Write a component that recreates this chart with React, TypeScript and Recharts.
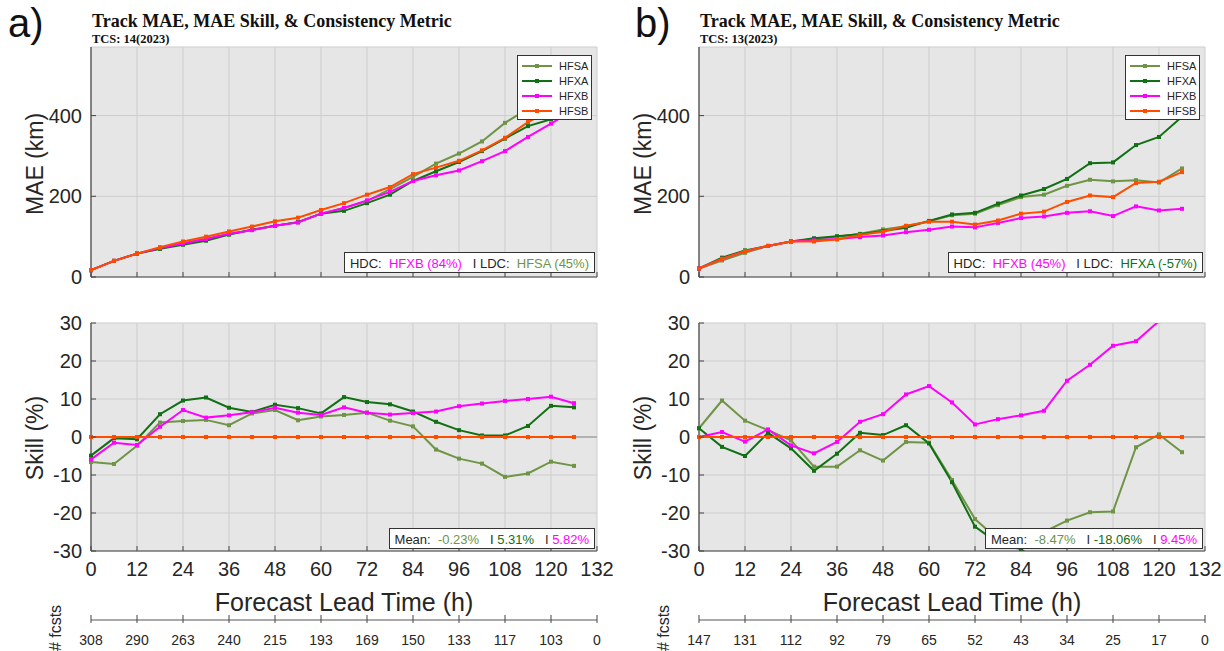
import React from 'react';
import { LineChart, Line, XAxis, YAxis, CartesianGrid, ReferenceLine } from 'recharts';

// ---------------- data ----------------
const leadTimes = [0, 6, 12, 18, 24, 30, 36, 42, 48, 54, 60, 66, 72, 78, 84, 90, 96, 102, 108, 114, 120, 126];
const xTicks = [0, 12, 24, 36, 48, 60, 72, 84, 96, 108, 120, 132];
const maeTicks = [0, 200, 400];
const skillTicks = [-30, -20, -10, 0, 10, 20, 30];
const seriesNames = ['HFSA', 'HFXA', 'HFXB', 'HFSB'];
const seriesColors = ['#6f9446', '#117014', '#ff00ff', '#ff4d00'];

const fcstLabelsA = ['308', '290', '263', '240', '215', '193', '169', '150', '133', '117', '103', '0'];
const fcstLabelsB = ['147', '131', '112', '92', '79', '65', '52', '43', '34', '25', '17', '0'];

// Track MAE (km), panel a
const maeHFSA_A = [17, 40, 58, 70, 84, 95, 106, 117, 127, 136, 157, 171, 188, 218, 248, 281, 306, 336, 382, 417, 450, 480];
const maeHFXA_A = [17, 40, 58, 70, 80, 90, 105, 117, 127, 136, 157, 164, 183, 204, 238, 262, 285, 312, 343, 374, 391, 405];
const maeHFXB_A = [17, 40, 58, 72, 83, 94, 107, 116, 127, 135, 157, 171, 190, 211, 238, 252, 264, 287, 312, 347, 380, 415];
const maeHFSB_A = [17, 40, 58, 74, 88, 100, 113, 125, 138, 147, 166, 183, 204, 223, 255, 271, 288, 314, 345, 384, 413, 440];

// Track MAE (km), panel b
const maeHFSA_B = [21, 41, 60, 77, 88, 94, 100, 107, 118, 126, 138, 153, 157, 178, 198, 204, 226, 241, 237, 240, 234, 269];
const maeHFXA_B = [21, 48, 66, 77, 88, 96, 101, 106, 114, 122, 139, 155, 159, 182, 202, 218, 243, 282, 284, 327, 347, 397];
const maeHFXB_B = [21, 45, 64, 77, 88, 91, 94, 99, 103, 111, 117, 125, 123, 134, 146, 150, 159, 163, 151, 175, 165, 169];
const maeHFSB_B = [21, 45, 64, 77, 88, 88, 93, 104, 112, 127, 137, 137, 130, 140, 157, 162, 186, 202, 198, 233, 236, 260];

// MAE skill (%), panel a
const skillHFSA_A = [-6.6, -7.1, -2.3, 3.8, 4.2, 4.5, 3.1, 6.2, 7.1, 4.4, 5.4, 5.8, 6.4, 4.3, 2.8, -3.3, -5.7, -7.0, -10.5, -9.6, -6.5, -7.6];
const skillHFXA_A = [-4.9, -0.3, -0.6, 6.0, 9.6, 10.4, 7.7, 6.6, 8.5, 7.6, 6.2, 10.5, 9.2, 8.6, 6.7, 4.0, 1.8, 0.4, 0.4, 2.9, 8.2, 7.8];
const skillHFXB_A = [-5.9, -1.5, -2.1, 2.7, 7.1, 5.1, 5.7, 6.5, 7.7, 6.4, 5.8, 7.8, 6.4, 5.9, 6.3, 6.7, 8.1, 8.8, 9.5, 10.0, 10.6, 8.9];
const skillHFSB_A = [0, 0, 0, 0, 0, 0, 0, 0, 0, 0, 0, 0, 0, 0, 0, 0, 0, 0, 0, 0, 0, 0];

// MAE skill (%), panel b
const skillHFSA_B = [2.3, 9.6, 4.3, 1.8, -0.9, -7.8, -7.8, -3.5, -6.2, -1.3, -1.5, -11.3, -21.6, -27, -27, -25, -22, -19.8, -19.6, -2.7, 0.7, -4.0];
const skillHFXA_B = [2.3, -2.6, -5.0, 1.1, -3.0, -8.9, -4.4, 1.1, 0.5, 3.1, -1.7, -11.9, -23.6, -28, -29.5, -34, -31, -40, -43, -40, -47, -53];
const skillHFXB_B = [0, 1.3, -1.2, 2.0, -2.2, -4.3, -1.3, 4.0, 6.0, 11.2, 13.4, 9.1, 3.3, 4.7, 5.7, 6.9, 14.8, 19.0, 24.0, 25.2, 30.5, 35.8];
const skillHFSB_B = [0, 0, 0, 0, 0, 0, 0, 0, 0, 0, 0, 0, 0, 0, 0, 0, 0, 0, 0, 0, 0, 0];

// ---------------- styling ----------------
const SANS = '"Liberation Sans", Arial, Helvetica, sans-serif';
const SERIF = '"Liberation Serif", "Times New Roman", serif';
const AX = '#444444';
const TXT = '#262626';
const BG = '#e6e6e6';
const GRID = '#cdcdcd';

function buildRows(cols: number[][]) {
  return leadTimes.map((t, i) => {
    const r: any = { t };
    seriesNames.forEach((n, k) => {
      r[n] = cols[k][i];
    });
    return r;
  });
}

const squareDot = (color: string) => (p: any) => {
  const { cx, cy, index } = p;
  if (cx == null || cy == null || isNaN(cx) || isNaN(cy)) return <g key={`d${index}`} />;
  return <rect key={`d${index}`} x={cx - 2} y={cy - 2} width={4} height={4} fill={color} />;
};

const bottomTick = (labels: string[] | null, showLabel: boolean) => (p: any) => {
  const { x, y, payload } = p;
  const i = xTicks.indexOf(payload.value);
  const txt = labels ? labels[i] : String(payload.value);
  return (
    <g>
      <line x1={x} x2={x} y1={y} y2={y - 5} stroke={AX} strokeWidth={1} />
      {showLabel && (
        <text x={x} y={y + 25} textAnchor="middle" fontSize={20} fontFamily={SANS} fill={TXT}>
          {txt}
        </text>
      )}
    </g>
  );
};

const fcstTick = (labels: string[]) => (p: any) => {
  const { x, y, payload } = p;
  const i = xTicks.indexOf(payload.value);
  return (
    <g>
      <line x1={x} x2={x} y1={y - 5} y2={y + 3} stroke={AX} strokeWidth={1} />
      <text x={x} y={y + 25} textAnchor="middle" fontSize={14} fontFamily={SANS} fill={TXT}>
        {labels[i]}
      </text>
    </g>
  );
};

const topTick = (p: any) => {
  const { x, y } = p;
  return <line x1={x} x2={x} y1={y} y2={y + 5} stroke={AX} strokeWidth={1} />;
};

const leftTick = (p: any) => {
  const { x, y, payload } = p;
  return (
    <g>
      <line x1={x} x2={x + 5} y1={y} y2={y} stroke={AX} strokeWidth={1} />
      <text x={x - 9} y={y + 7} textAnchor="end" fontSize={20} fontFamily={SANS} fill={TXT}>
        {String(payload.value)}
      </text>
    </g>
  );
};

const rightTick = (p: any) => {
  const { x, y } = p;
  return <line x1={x} x2={x - 5} y1={y} y2={y} stroke={AX} strokeWidth={1} />;
};

const axisLine = { stroke: AX, strokeWidth: 1.2 };

function renderLines() {
  return seriesNames.map((n, k) => (
    <Line
      key={n}
      type="linear"
      dataKey={n}
      stroke={seriesColors[k]}
      strokeWidth={2}
      dot={squareDot(seriesColors[k])}
      activeDot={false}
      isAnimationActive={false}
    />
  ));
}

type PanelProps = {
  left: number;
  letter: string;
  letterX: number;
  tcs: string;
  mae: number[][];
  skill: number[][];
  maeMax: number;
  fcst: string[];
  hdc: { best: string; bestColor: string; worst: string; worstColor: string };
  means: string[];
};

function Panel(props: PanelProps) {
  const { left, letter, letterX, tcs, mae, skill, maeMax, fcst, hdc, means } = props;
  const maeRows = buildRows(mae);
  const skillRows = buildRows(skill);
  const boxStyle: React.CSSProperties = {
    position: 'absolute',
    right: 17,
    height: 21,
    lineHeight: '21px',
    background: '#ffffff',
    border: '1px solid #333',
    fontFamily: SANS,
    fontSize: 13,
    color: TXT,
    padding: '0 5px',
    whiteSpace: 'pre',
    boxSizing: 'border-box',
    zIndex: 5,
  };
  return (
    <div style={{ position: 'absolute', left, top: 0, width: 612, height: 651 }}>
      <svg width={612} height={651} style={{ position: 'absolute', left: 0, top: 0 }}>
        <text x={letterX} y={37} fontSize={40} fontFamily={SANS} fill="#111">{letter}</text>
        <text x={92} y={27} fontSize={18} fontWeight="bold" fontFamily={SERIF} fill="#111">
          Track MAE, MAE Skill, &amp; Consistency Metric
        </text>
        <text x={92} y={43} fontSize={12.5} fontWeight="bold" fontFamily={SERIF} fill="#111">{tcs}</text>
        <text transform="translate(43,164) rotate(-90)" textAnchor="middle" fontSize={23} fontFamily={SANS} fill={TXT}>
          MAE (km)
        </text>
        <text transform="translate(43,438) rotate(-90)" textAnchor="middle" fontSize={23} fontFamily={SANS} fill={TXT}>
          Skill (%)
        </text>
        <text x={344} y={611} textAnchor="middle" fontSize={25} fontFamily={SANS} fill={TXT}>
          Forecast Lead Time (h)
        </text>
        <text transform="translate(61,628) rotate(-90)" textAnchor="middle" fontSize={16} fontFamily={SANS} fill={TXT}>
          # fcsts
        </text>
      </svg>

      {/* MAE chart */}
      <div style={{ position: 'absolute', left: 0, top: 0 }}>
        <LineChart width={612} height={300} data={maeRows} margin={{ top: 47, right: 15, bottom: 0, left: 0 }}>
          <CartesianGrid stroke={GRID} fill={BG} fillOpacity={1} />
          <XAxis xAxisId={0} dataKey="t" type="number" domain={[0, 132]} ticks={xTicks} interval={0}
            height={23} axisLine={axisLine} tickLine={false} tickSize={0} tickMargin={0} tick={bottomTick(null, false)} />
          <XAxis xAxisId={2} orientation="top" dataKey="t" type="number" domain={[0, 132]} ticks={xTicks} interval={0}
            height={0} axisLine={axisLine} tickLine={false} tickSize={0} tickMargin={0} tick={topTick} />
          <YAxis yAxisId={0} type="number" domain={[0, maeMax]} ticks={maeTicks} interval={0} allowDataOverflow
            width={91} axisLine={axisLine} tickLine={false} tickSize={0} tickMargin={0} tick={leftTick} />
          <YAxis yAxisId={1} orientation="right" type="number" domain={[0, maeMax]} ticks={maeTicks} interval={0}
            width={0} axisLine={axisLine} tickLine={false} tickSize={0} tickMargin={0} tick={rightTick} />
          {renderLines()}
        </LineChart>
      </div>

      {/* legend */}
      <div style={{ position: 'absolute', right: 20, top: 55, width: 75, height: 65, background: '#fff',
        border: '1px solid #333', boxSizing: 'border-box', zIndex: 5, paddingTop: 2 }}>
        {seriesNames.map((n, k) => (
          <div key={n} style={{ height: 15.2, display: 'flex', alignItems: 'center' }}>
            <svg width={38} height={10} style={{ marginLeft: 3 }}>
              <line x1={1} x2={31} y1={5} y2={5} stroke={seriesColors[k]} strokeWidth={2} />
              <rect x={14} y={3} width={4} height={4} fill={seriesColors[k]} />
            </svg>
            <span style={{ fontFamily: SANS, fontSize: 11, color: TXT }}>{n}</span>
          </div>
        ))}
      </div>

      <div style={{ ...boxStyle, top: 252 }}>
        <span>{'HDC:  '}</span>
        <span style={{ color: hdc.bestColor }}>{hdc.best}</span>
        <span>{'   I LDC:  '}</span>
        <span style={{ color: hdc.worstColor }}>{hdc.worst}</span>
      </div>

      {/* Skill chart */}
      <div style={{ position: 'absolute', left: 0, top: 300 }}>
        <LineChart width={612} height={351} data={skillRows} margin={{ top: 23, right: 15, bottom: 0, left: 0 }}>
          <CartesianGrid stroke={GRID} fill={BG} fillOpacity={1} />
          <XAxis xAxisId={0} dataKey="t" type="number" domain={[0, 132]} ticks={xTicks} interval={0}
            height={69} axisLine={axisLine} tickLine={false} tickSize={0} tickMargin={0} tick={bottomTick(null, true)} />
          <XAxis xAxisId={1} dataKey="t" type="number" domain={[0, 132]} ticks={xTicks} interval={0}
            height={31} axisLine={{ stroke: '#555', strokeWidth: 1 }} tickLine={false} tickSize={0} tickMargin={0} tick={fcstTick(fcst)} />
          <XAxis xAxisId={2} orientation="top" dataKey="t" type="number" domain={[0, 132]} ticks={xTicks} interval={0}
            height={0} axisLine={axisLine} tickLine={false} tickSize={0} tickMargin={0} tick={topTick} />
          <YAxis yAxisId={0} type="number" domain={[-30, 30]} ticks={skillTicks} interval={0} allowDataOverflow
            width={91} axisLine={axisLine} tickLine={false} tickSize={0} tickMargin={0} tick={leftTick} />
          <YAxis yAxisId={1} orientation="right" type="number" domain={[-30, 30]} ticks={skillTicks} interval={0}
            width={0} axisLine={axisLine} tickLine={false} tickSize={0} tickMargin={0} tick={rightTick} />
          <ReferenceLine y={0} stroke="#8a8a8a" strokeWidth={1} />
          {renderLines()}
        </LineChart>
      </div>

      <div style={{ ...boxStyle, top: 528 }}>
        <span>{'Mean:  '}</span>
        <span style={{ color: seriesColors[0] }}>{means[0]}</span>
        <span>{'   I '}</span>
        <span style={{ color: seriesColors[1] }}>{means[1]}</span>
        <span>{'   I '}</span>
        <span style={{ color: seriesColors[2] }}>{means[2]}</span>
      </div>
    </div>
  );
}

export default function App() {
  return (
    <div style={{ position: 'absolute', left: 0, top: 0, width: 1224, height: 651, background: '#fff', overflow: 'hidden' }}>
      <style>{'.recharts-surface{overflow:visible}'}</style>
      <Panel
        left={0}
        letter="a)"
        letterX={8}
        tcs="TCS: 14(2023)"
        mae={[maeHFSA_A, maeHFXA_A, maeHFXB_A, maeHFSB_A]}
        skill={[skillHFSA_A, skillHFXA_A, skillHFXB_A, skillHFSB_A]}
        maeMax={570}
        fcst={fcstLabelsA}
        hdc={{ best: 'HFXB (84%)', bestColor: seriesColors[2], worst: 'HFSA (45%)', worstColor: seriesColors[0] }}
        means={['-0.23%', '5.31%', '5.82%']}
      />
      <Panel
        left={608}
        letter="b)"
        letterX={27}
        tcs="TCS: 13(2023)"
        mae={[maeHFSA_B, maeHFXA_B, maeHFXB_B, maeHFSB_B]}
        skill={[skillHFSA_B, skillHFXA_B, skillHFXB_B, skillHFSB_B]}
        maeMax={570}
        fcst={fcstLabelsB}
        hdc={{ best: 'HFXB (45%)', bestColor: seriesColors[2], worst: 'HFXA (-57%)', worstColor: seriesColors[1] }}
        means={['-8.47%', '-18.06%', '9.45%']}
      />
    </div>
  );
}
